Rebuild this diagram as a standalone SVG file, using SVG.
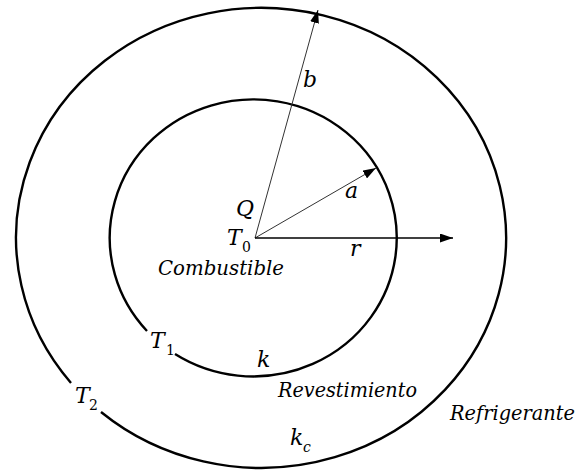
<svg xmlns="http://www.w3.org/2000/svg" width="579" height="471" viewBox="0 0 579 471">
<style>
.ring{fill:none;stroke:#000;stroke-width:2.4}
.ray{fill:none;stroke:#333;stroke-width:1}
text{font-family:"DejaVu Serif",serif;fill:#000}
.lbl{font-style:italic;font-size:22px}
.word{font-style:italic;font-size:20px}
.sub{font-size:14px}
</style>
<defs>
<marker id="ah" viewBox="0 0 13 9" refX="13" refY="4.5" markerWidth="13" markerHeight="9" orient="auto" markerUnits="userSpaceOnUse">
<path d="M0,0 L13,4.5 L0,9 z" fill="#000"/>
</marker>
</defs>
<rect width="579" height="471" fill="#fff"/>
<g id="outer-ring">
<path class="ring" d="M101,412 A245,230 0 1 0 71,383"/>
</g>
<g id="inner-ring">
<path class="ring" d="M175,354 A143.5,138.5 0 1 0 147,331"/>
</g>
<g id="connectors">
<line class="ray" x1="255" y1="238" x2="318" y2="10" marker-end="url(#ah)"/>
<line class="ray" x1="255" y1="238" x2="376" y2="168" marker-end="url(#ah)"/>
<line class="ray" x1="255" y1="238" x2="453" y2="238" style="stroke:#000;stroke-width:1.3" marker-end="url(#ah)"/>
</g>
<g id="center">
<text class="lbl" x="236" y="216">Q</text>
<text class="lbl" x="227" y="245">T</text>
<text class="sub" x="242" y="252">0</text>
<text class="word" x="158" y="275" textLength="126" lengthAdjust="spacingAndGlyphs">Combustible</text>
</g>
<g id="radii-labels">
<text class="lbl" x="303" y="87">b</text>
<text class="lbl" x="345" y="198">a</text>
<text class="lbl" x="350" y="256">r</text>
</g>
<g id="cladding">
<text class="lbl" x="150" y="348">T</text>
<text class="sub" x="166" y="355">1</text>
<text class="lbl" x="257" y="367">k</text>
<text class="word" x="278" y="397" textLength="139" lengthAdjust="spacingAndGlyphs">Revestimiento</text>
</g>
<g id="coolant">
<text class="lbl" x="75" y="403">T</text>
<text class="sub" x="89" y="410">2</text>
<text class="lbl" x="290" y="445">k</text>
<text class="sub" x="303" y="452" style="font-style:italic">c</text>
<text class="word" x="450" y="420" textLength="125" lengthAdjust="spacingAndGlyphs">Refrigerante</text>
</g>
</svg>
